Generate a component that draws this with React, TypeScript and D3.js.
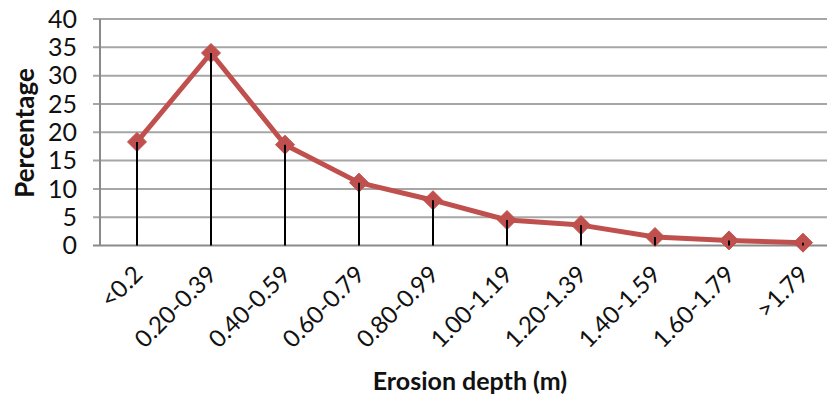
import React from "react";
import * as d3 from "d3";

const categories = ["<0.2", "0.20-0.39", "0.40-0.59", "0.60-0.79", "0.80-0.99", "1.00-1.19", "1.20-1.39", "1.40-1.59", "1.60-1.79", ">1.79"];
const percentages = [18.3, 34.0, 17.8, 11.1, 8.0, 4.5, 3.6, 1.5, 0.9, 0.5];
const yTicks = [0, 5, 10, 15, 20, 25, 30, 35, 40];
const xTitle = "Erosion depth (m)";
const yTitle = "Percentage";

const W = 827;
const H = 398;
const left = 100;
const right = 840;
const top = 19;
const bottom = 245.5;
const RED = "#c0504d";
const GRID = "#a6a6a6";
const AXIS = "#8a8a8a";
const FONT = "Lato, 'Open Sans', sans-serif";

export default function App() {
  const x = d3.scaleBand<string>().domain(categories).range([left, right]).padding(0);
  const y = d3.scaleLinear().domain([0, 40]).range([bottom, top]);
  const cx = (c: string) => (x(c) as number) + x.bandwidth() / 2;
  const pts = categories.map((c, i) => [cx(c), y(percentages[i])] as [number, number]);
  const line = d3.line<[number, number]>().x((d) => d[0]).y((d) => d[1])(pts) as string;
  const r = 9.5;
  return (
    <svg width={W} height={H} style={{ position: "absolute", left: 0, top: 0, background: "#fff" }} fontFamily={FONT}>
      {yTicks.map((t) => (
        <line key={"g" + t} x1={left - 7} x2={W} y1={y(t)} y2={y(t)} stroke={t === 0 ? AXIS : GRID} strokeWidth={2} />
      ))}
      <line x1={left} x2={left} y1={top} y2={bottom} stroke={AXIS} strokeWidth={2} />
      {yTicks.map((t) => (
        <text key={"t" + t} x={77} y={y(t)} dy="0.35em" textAnchor="end" fontSize={25} fill="#111">
          {t}
        </text>
      ))}
      <path d={line} fill="none" stroke={RED} strokeWidth={5} strokeLinejoin="round" />
      {pts.map(([px, py], i) => (
        <path key={"m" + i} d={`M${px},${py - r}L${px + r},${py}L${px},${py + r}L${px - r},${py}Z`} fill={RED} stroke={RED} strokeWidth={1} />
      ))}
      {pts.map(([px, py], i) => (
        <line key={"d" + i} x1={px} x2={px} y1={py} y2={bottom} stroke="#000" strokeWidth={2} />
      ))}
      {categories.map((c) => (
        <text
          key={"x" + c}
          transform={`translate(${cx(c) + 7},${276}) rotate(-45)`}
          textAnchor="end"
          fontSize={24}
          fill="#111"
        >
          {c}
        </text>
      ))}
      <text x={(left + right) / 2} y={390} textAnchor="middle" fontSize={25} fontWeight="bold" fill="#111">
        {xTitle}
      </text>
      <text transform={`translate(34,${133}) rotate(-90)`} textAnchor="middle" fontSize={26} fontWeight="bold" fill="#111">
        {yTitle}
      </text>
    </svg>
  );
}
